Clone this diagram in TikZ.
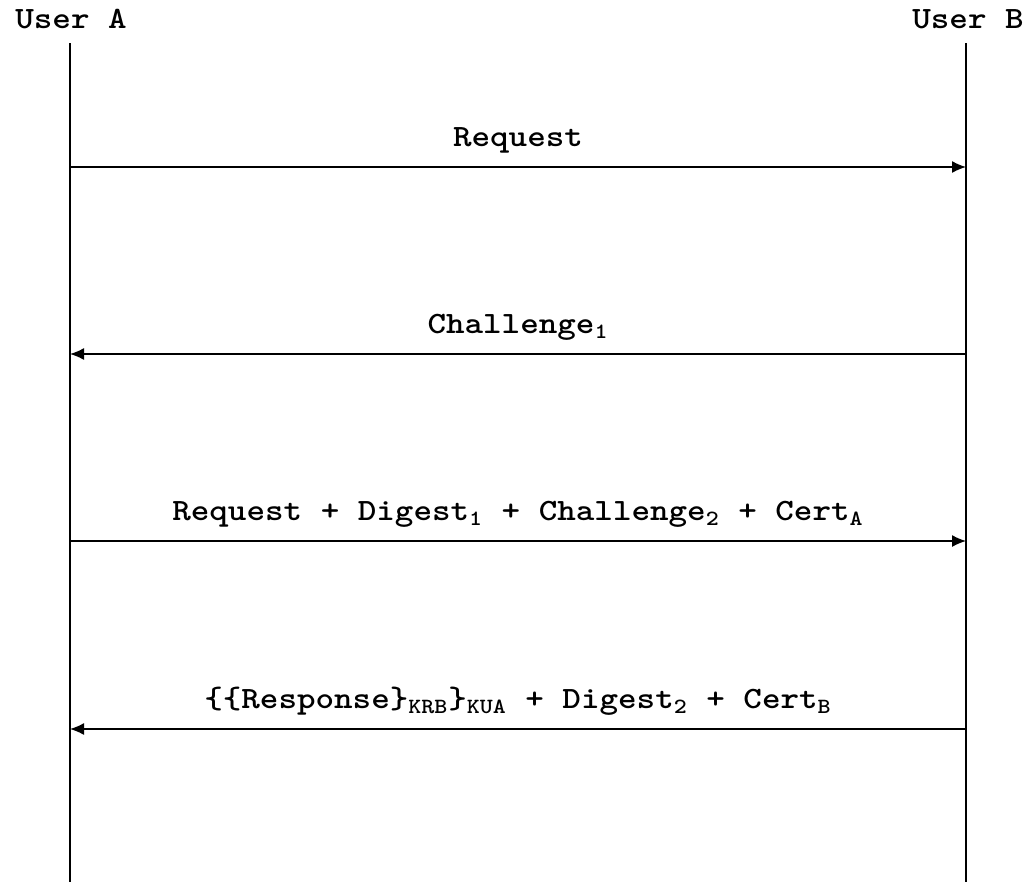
\documentclass[tikz,border=0pt]{standalone}
\usepackage{fontspec}
\newfontfamily\courfont{Latin Modern Mono Light}[FakeStretch=1.14]
\usetikzlibrary{arrows.meta}

\newcommand{\msgfont}{\courfont\bfseries\fontsize{15.5}{18}\selectfont}

\begin{document}
\begin{tikzpicture}[x=0.5pt,y=-0.5pt,line width=0.7pt]

      \useasboundingbox (0,0) rectangle (1027,885);

      \begin{scope}[every node/.style={font=\msgfont}]
        \node (userA) at (71,19)  {User A};
        \node (userB) at (968,19) {User B};
      \end{scope}

      % lifelines
      \coordinate (a0) at (70,43);
      \coordinate (b0) at (966,43);
      \coordinate (a5) at (70,882);
      \coordinate (b5) at (966,882);
      \draw (a0) -- (a5);
      \draw (b0) -- (b5);

      % message points
      \coordinate (a1) at (70,167);
      \coordinate (b1) at (966,167);
      \coordinate (a2) at (70,354);
      \coordinate (b2) at (966,354);
      \coordinate (a3) at (70,541);
      \coordinate (b3) at (966,541);
      \coordinate (a4) at (70,729);
      \coordinate (b4) at (966,729);

      \begin{scope}[every node/.style={above=3pt,font=\msgfont}]

        \begin{scope}[every edge/.style={draw,-{Latex[length=7pt,width=6pt]}}]
          \path (a1) edge node {Request} (b1);
          \path (b2) edge node {Challenge\textsubscript{1}} (a2);
          \path (a3) edge node {Request + Digest\textsubscript{1} + Challenge\textsubscript{2} + Cert\textsubscript{A}} (b3);
          \path (b4) edge node {\{\{Response\}\textsubscript{KRB}\}\textsubscript{KUA} + Digest\textsubscript{2} + Cert\textsubscript{B}} (a4);
        \end{scope}

      \end{scope}

    \end{tikzpicture}
\end{document}
